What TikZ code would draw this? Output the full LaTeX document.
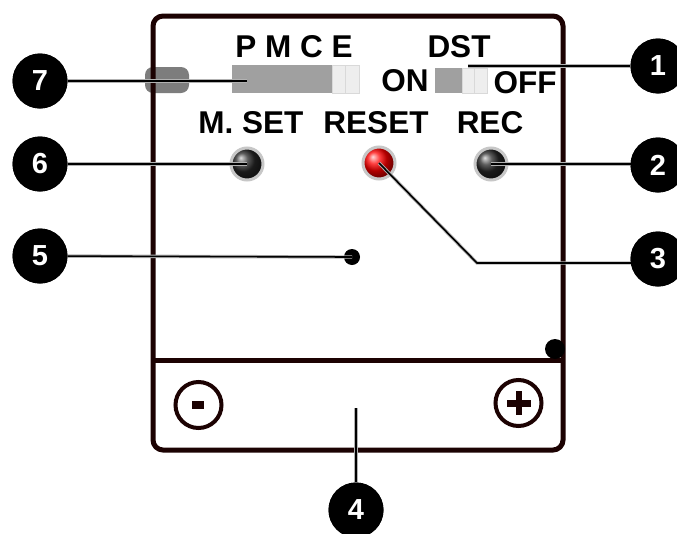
\documentclass[tikz,border=0pt]{standalone}
\usepackage{fontspec}
\setmainfont{Liberation Sans}
\usetikzlibrary{calc}
\definecolor{frame}{RGB}{28,2,2}
\definecolor{swmid}{RGB}{160,160,160}
\definecolor{swdark}{RGB}{125,125,125}
\definecolor{swlight}{RGB}{238,238,238}
\begin{document}
\begin{tikzpicture}[x=1pt,y=-1pt,
  lbl/.style={font=\fontsize{31.5}{31.5}\selectfont\bfseries, inner sep=0pt},
  numc/.style={circle, fill=black, minimum size=55pt, inner sep=0pt, text=white,
    font=\fontsize{29}{29}\selectfont\bfseries},
  conn/.style={line width=1.6pt, black},
  shadowln/.style={line width=3.4pt, black!30},
  btn/.style={circle, minimum size=32pt, inner sep=0pt, shading=ball, draw=black!22, line width=3pt},
  framel/.style={frame, line width=5pt}
]
\useasboundingbox[fill=white] (0,0) rectangle (677,533);

% left dark slider piece
\fill[swdark, rounded corners=8pt] (145,67) rectangle (189,93);

% frame
\draw[framel, rounded corners=10pt] (153,16) rectangle (563,450);
\draw[framel] (153,360) -- (563,360);

% PMCE switch
\fill[swmid] (232,65) rectangle (332,93);
\filldraw[fill=swlight, draw=black!15, line width=0.6pt] (332,65) rectangle (359,93);
\draw[black!15, line width=0.6pt] (345,65) -- (345,93);

% DST switch
\fill[swmid] (435,68) rectangle (462,93);
\filldraw[fill=swlight, draw=black!15, line width=0.6pt] (462,68) rectangle (487,93);
\draw[black!15, line width=0.6pt] (474,68) -- (474,93);

% labels
\node[lbl] (tpmce) at (294,47) {P M C E};
\node[lbl] (tdst) at (459,47) {DST};
\node[lbl] (ton) at (405,81) {ON};
\node[lbl] (toff) at (525,83) {OFF};
\node[lbl] (tmset) at (251,123) {M. SET};
\node[lbl] (treset) at (376,123) {RESET};
\node[lbl] (trec) at (490,123) {REC};

% buttons
\node[btn, ball color=black!85] (bmset) at (247,164) {};
\node[btn, ball color=red] (breset) at (379,163) {};
\node[btn, ball color=black!85] (brec) at (491,164) {};

% dot 5 and corner dot
\node[circle, fill=black, minimum size=16pt, inner sep=0pt] (dot5) at (352,257) {};
\fill[black] (555,349) circle (10);

% minus / plus
\draw[frame, line width=4pt] (198.5,405) circle (23);
\fill[frame] (192,401) rectangle (204,409);
\draw[frame, line width=4pt] (518.5,403) circle (23);
\fill[frame] (507,399.5) rectangle (531,406.5);
\fill[frame] (515.5,391) rectangle (522,415);

% numbered circles
\node[numc] (n7) at (40,81) {7};
\node[numc] (n6) at (40,164) {6};
\node[numc] (n5) at (40,256) {5};
\node[numc] (n1) at (658,66) {1};
\node[numc] (n2) at (658,165) {2};
\node[numc] (n3) at (658,259) {3};
\node[numc] (n4) at (356,510) {4};

% connector anchor points
\coordinate (p7) at (247,81);
\coordinate (p1) at (468,66);
\coordinate (p3) at (477,263);
\coordinate (p4) at (356,408);

% connectors
\foreach \s in {shadowln, conn} {
  \draw[\s] (n7) -- (p7);
  \draw[\s] (p1) -- (n1);
  \draw[\s] (n6) -- (bmset.center);
  \draw[\s] (brec.center) -- (brec.center -| n2.center);
  \draw[\s] (n5) -- (dot5.center);
  \draw[\s] (breset.center) -- (p3) -- (p3 -| n3.center);
  \draw[\s] (p4) -- (n4);
}
% redraw numbered circles on top
\foreach \n/\t in {n7/7,n6/6,n5/5,n1/1,n2/2,n3/3,n4/4} {
  \node[numc] at (\n.center) {\t};
}
\end{tikzpicture}
\end{document}
